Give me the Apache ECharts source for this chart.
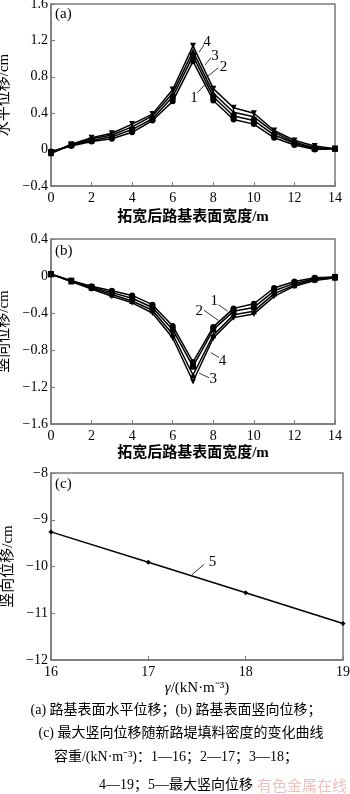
<!DOCTYPE html>
<html><head><meta charset="utf-8">
<script src="https://cdn.jsdelivr.net/npm/echarts@6.0.0/dist/echarts.min.js"></script>
<style>html,body{margin:0;padding:0;background:#fff}#c{width:350px;height:794px}</style>
</head><body><div id="c"></div>
<script>
// ---- data ----
const widths = [0,1,2,3,4,5,6,7,8,9,10,11,12,13,14];
// (a) horizontal displacement, cm
const hz1 = [-0.02,0.04,0.09,0.12,0.19,0.32,0.53,0.97,0.54,0.33,0.28,0.13,0.05,0.00,0.01];
const hz2 = [-0.03,0.05,0.10,0.14,0.22,0.34,0.58,1.03,0.58,0.37,0.32,0.16,0.07,0.01,0.01];
const hz3 = [-0.04,0.05,0.12,0.16,0.25,0.37,0.62,1.08,0.62,0.41,0.36,0.19,0.08,0.02,0.01];
const hz4 = [-0.04,0.06,0.13,0.18,0.28,0.39,0.66,1.14,0.67,0.46,0.40,0.21,0.10,0.04,0.01];
// (b) vertical displacement, cm
const vt1 = [0.02,-0.05,-0.11,-0.16,-0.21,-0.31,-0.54,-0.93,-0.55,-0.35,-0.30,-0.13,-0.06,-0.02,-0.01];
const vt2 = [0.02,-0.05,-0.12,-0.18,-0.24,-0.34,-0.58,-0.98,-0.58,-0.38,-0.34,-0.16,-0.08,-0.03,-0.01];
const vt3 = [0.02,-0.06,-0.13,-0.20,-0.27,-0.37,-0.63,-1.07,-0.64,-0.42,-0.38,-0.19,-0.10,-0.04,-0.02];
const vt4 = [0.02,-0.06,-0.14,-0.22,-0.29,-0.40,-0.67,-1.14,-0.67,-0.45,-0.41,-0.22,-0.11,-0.05,-0.02];
// (c) max vertical displacement vs unit weight
const gammas = [16,17,18,19];
const maxVert = [-9.26,-9.91,-10.56,-11.22];
// tick ranges
const widthTicks = {min:0,max:14,interval:2};
const hzTicks = {min:-0.4,max:1.6,interval:0.4};
const vtTicks = {min:-1.6,max:0.4,interval:0.4};
const gTicks = {min:16,max:19,interval:1};
const mvTicks = {min:-12,max:-8,interval:1};
// curve labels: [text, textX, textY, fromX, fromY, toX, toY] in data units
const labelsA = [['4',7.69,1.18,7.30,1.07,7.54,1.15],['3',8.08,1.03,7.59,0.93,7.89,1.01],['2',8.50,0.91,7.64,0.79,8.25,0.90],['1',7.05,0.57,7.20,0.62,7.69,0.74]];
const labelsB = [['1',8.05,-0.27,8.25,-0.31,8.71,-0.38],['2',7.31,-0.38,7.54,-0.37,8.25,-0.48],['4',8.46,-0.92,7.89,-0.83,8.28,-0.88],['3',8.00,-1.11,7.30,-1.05,7.79,-1.10]];
const labelsC = [['5',17.66,-9.90,17.45,-10.17,17.57,-9.96]];

// ---- chart ----
const SERIF = "'Liberation Serif','Times New Roman','Noto Sans CJK SC',serif";
const GREY = '#7a7a7a';
function fmt(v){ const s = Math.abs(v)<1e-9 ? '0' : String(parseFloat(v.toFixed(2))); return s.replace('-','\u2212'); }
function xAx(gi, t, name, gap){
  return {type:'value', gridIndex:gi, min:t.min, max:t.max, interval:t.interval,
    name:name, nameLocation:'middle', nameGap:gap,
    nameTextStyle:{fontFamily:SERIF, fontSize:15, color:'#000', fontWeight:'bold'},
    axisLine:{show:true, onZero:false, lineStyle:{color:GREY, width:1.5}},
    axisTick:{show:true, inside:true, length:4, lineStyle:{color:GREY, width:1}},
    axisLabel:{fontFamily:SERIF, fontSize:14, color:'#000', margin:5, formatter:fmt},
    splitLine:{show:false}};
}
function yAx(gi, t, name){
  return {type:'value', gridIndex:gi, min:t.min, max:t.max, interval:t.interval,
    name:name, nameLocation:'middle', nameGap:35, nameRotate:90,
    nameTextStyle:{fontFamily:SERIF, fontSize:15, color:'#000'},
    axisLine:{show:true, onZero:false, lineStyle:{color:GREY, width:1.5}},
    axisTick:{show:true, inside:true, length:4, lineStyle:{color:GREY, width:1}},
    axisLabel:{fontFamily:SERIF, fontSize:14, color:'#000', margin:3, formatter:fmt},
    splitLine:{show:false}};
}
function pts(xs, ys){ return xs.map((x,i)=>[x, ys[i]]); }
function annot(labels){
  return {
    markLine:{silent:true, symbol:['none','none'], animation:false,
      lineStyle:{color:'#000', width:0.8, type:'solid'}, label:{show:false},
      data: labels.map(l=>[{coord:[l[3],l[4]]},{coord:[l[5],l[6]]}])},
    markPoint:{silent:true, symbol:'circle', symbolSize:1, animation:false,
      itemStyle:{color:'rgba(0,0,0,0)'},
      label:{show:true, position:'inside', fontFamily:SERIF, fontSize:15, color:'#000', formatter:p=>p.name},
      data: labels.map(l=>({name:l[0], coord:[l[1],l[2]]}))}
  };
}
function lineS(gi, xs, ys, sym, rot, extra){
  return Object.assign({type:'line', xAxisIndex:gi, yAxisIndex:gi, data:pts(xs,ys),
    symbol:sym, symbolSize:6, symbolRotate:rot||0, showAllSymbol:true,
    lineStyle:{color:'#000', width:1.5}, itemStyle:{color:'#000'}, z:3}, extra||{});
}

const chart = echarts.init(document.getElementById('c'), null, {renderer:'canvas'});
const syms = [['circle',0],['rect',0],['triangle',0],['triangle',180]];
const hz = [hz1,hz2,hz3,hz4], vt = [vt1,vt2,vt3,vt4];
const series = [];
hz.forEach((d,i)=>series.push(lineS(0, widths, d, syms[i][0], syms[i][1], i===0?annot(labelsA):{})));
vt.forEach((d,i)=>series.push(lineS(1, widths, d, syms[i][0], syms[i][1], i===0?annot(labelsB):{})));
series.push(lineS(2, gammas, maxVert, 'diamond', 0, Object.assign({symbolSize:5}, annot(labelsC))));

const capFont = "14px 'Liberation Serif','Noto Sans CJK SC',serif";
function cap(text, x, y, fill){
  return {type:'text', x:x, y:y, style:{text:text, font:capFont, fill:fill||'#000', align:'center', verticalAlign:'middle'}, silent:true};
}
const panelFont = "15px 'Liberation Serif',serif";
const gridBase = {show:true, borderColor:GREY, borderWidth:1.5, containLabel:false, outerBoundsMode:'none'};

chart.setOption({
  animation:false,
  backgroundColor:'#fff',
  grid:[
    Object.assign({left:51, top:4, width:284, height:182}, gridBase),
    Object.assign({left:51, top:239, width:284, height:185}, gridBase),
    Object.assign({left:51, top:473, width:292, height:187}, gridBase)
  ],
  xAxis:[
    xAx(0, widthTicks, '拓宽后路基表面宽度/m', 24),
    xAx(1, widthTicks, '拓宽后路基表面宽度/m', 22),
    Object.assign(xAx(2, gTicks, '{i|γ}/(kN·m⁻³)', 21),
      {nameTextStyle:{fontFamily:SERIF, fontSize:15, color:'#000', rich:{i:{fontStyle:'italic', fontFamily:SERIF, fontSize:15}}}})
  ],
  yAxis:[
    yAx(0, hzTicks, '水平位移/cm'),
    yAx(1, vtTicks, '竖向位移/cm'),
    yAx(2, mvTicks, '竖向位移/cm')
  ],
  series:series,
  graphic:[
    {type:'text', left:55, top:7, style:{text:'(a)', font:panelFont, fill:'#000'}, silent:true},
    {type:'text', left:55, top:244, style:{text:'(b)', font:panelFont, fill:'#000'}, silent:true},
    {type:'text', left:55, top:477, style:{text:'(c)', font:panelFont, fill:'#000'}, silent:true},
    cap('(a) 路基表面水平位移；(b) 路基表面竖向位移；', 176, 710),
    cap('(c) 最大竖向位移随新路堤填料密度的变化曲线', 181, 733),
    cap('容重/(kN·m⁻³)：1—16；2—17；3—18；', 176, 757),
    cap('4—19；5—最大竖向位移', 176, 785),
    {type:'text', x:257, y:785, style:{text:'有色金属在线', font:"15px 'Noto Sans CJK SC',sans-serif", fill:'rgba(225,140,140,0.55)', verticalAlign:'middle'}, silent:true}
  ]
});
</script>
</body></html>
